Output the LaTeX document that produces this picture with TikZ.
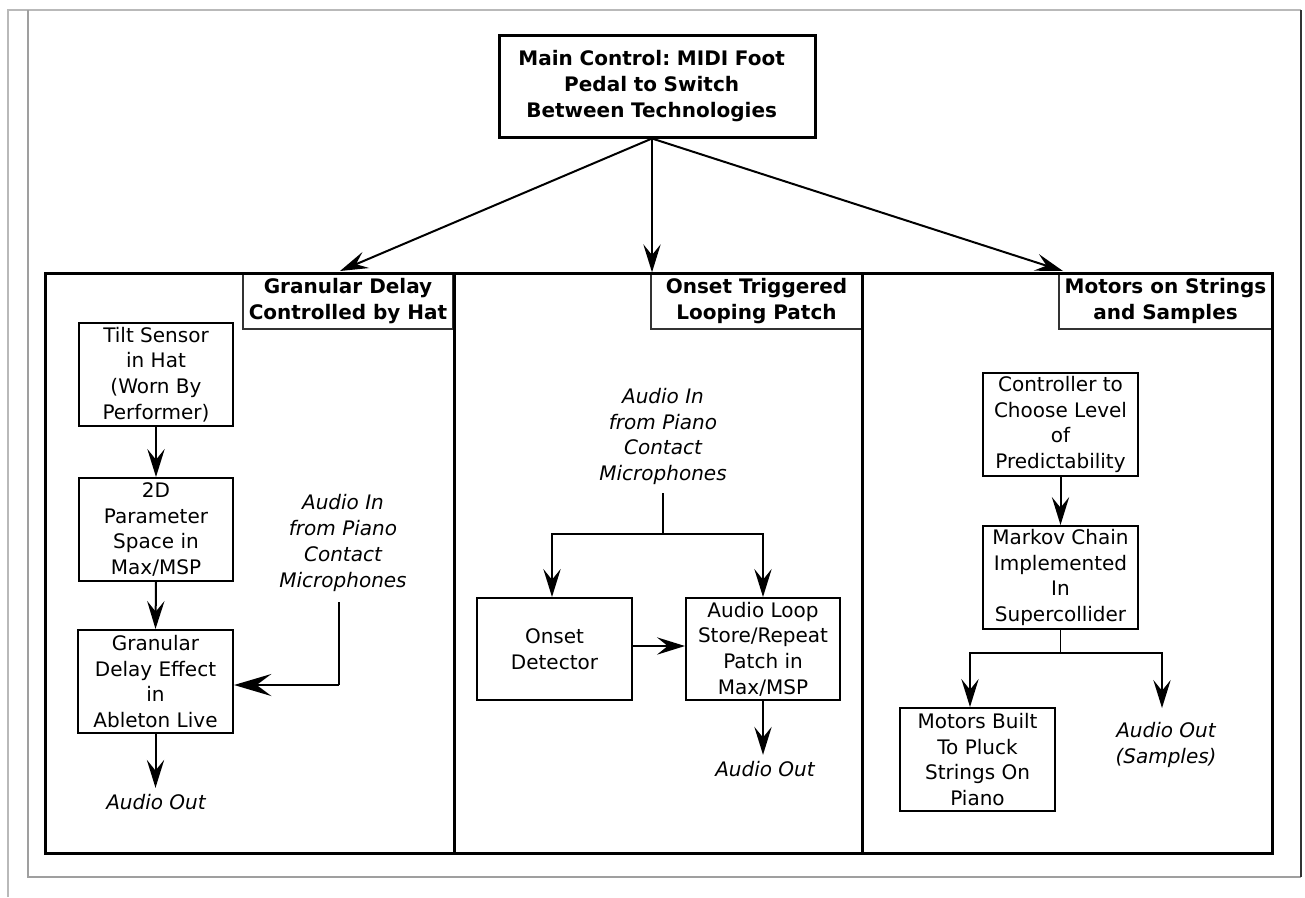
\documentclass[tikz,border=0pt]{standalone}
\usepackage{fontspec}
\setmainfont{DejaVu Sans}[ItalicFont={DejaVu Sans Oblique},BoldFont={DejaVu Sans Bold},BoldItalicFont={DejaVu Sans Bold Oblique}]
\usetikzlibrary{arrows.meta,calc}
\frenchspacing
\begin{document}
\begin{tikzpicture}[x=0.75pt,y=-0.75pt,
  txt/.style={font=\fontsize{15}{19.3}\selectfont, align=center, inner sep=0pt},
  box/.style={txt, draw, line width=1.5pt, minimum width=116pt, minimum height=77pt},
  titlebox/.style={draw=black!80, line width=1pt, inner sep=0pt, align=center, minimum height=42pt, font=\fontsize{15}{19}\selectfont\bfseries},
  lbl/.style={txt, font=\fontsize{15}{19.3}\selectfont\itshape},
  arr/.style={line width=1.5pt, -{Stealth[length=21pt,width=13pt,inset=8pt]}},
  arrbig/.style={line width=2.2pt, -{Stealth[length=28pt,width=16.5pt,inset=11pt]}},
  thinline/.style={line width=1pt},
  panel/.style={line width=2.25pt}
]
\useasboundingbox (0,0) rectangle (1305,897);
% page frame
\draw[gray!55, line width=1pt] (8,897) -- (8,10) -- (1301,10);
\draw[gray!75, line width=1pt] (28,10) -- (28,877) -- (1301,877);
\draw[black!80, line width=1pt] (1301,10) -- (1301,877);

% main control
\node[txt, draw, line width=2.25pt, font=\fontsize{15}{19.3}\selectfont\bfseries\frenchspacing, minimum width=237pt, minimum height=76.5pt, text width=225pt] (main) at (657,86) {\hspace*{-8pt}Main Control: MIDI Foot\\\hspace*{-8pt}Pedal to Switch\\\hspace*{-8pt}Between Technologies};
\coordinate (mo) at (652,137);

% title boxes
\node[titlebox, minimum width=157.5pt] (t1) at (348,301) {Granular Delay\\Controlled by Hat};
\node[titlebox, minimum width=158.25pt] (t2) at (756.5,301) {Onset Triggered\\Looping Patch};
\node[titlebox, minimum width=159.75pt] (t3) at (1165.5,301) {Motors on Strings\\and Samples};

% panels
\draw[panel] (45,273) rectangle (1272,853);
\draw[panel] (454,273) -- (454,853);
\draw[panel] (862,273) -- (862,853);

% arrows from main
\coordinate (e1) at (340,271);
\coordinate (e3) at (1063,271);
\draw[arr] (main.south -| mo) -- (e1);
\draw[arr] (main.south -| mo) -- (mo |- t2.north);
\draw[arr] (main.south -| mo) -- (e3);

% left panel
\node[box, minimum width=115.5pt, minimum height=77.25pt] (tilt) at (156,374.5) {Tilt Sensor\\in Hat\\(Worn By\\Performer)};
\node[box, minimum width=115.5pt, minimum height=77.25pt] (param) at (156,529.5) {2D\\Parameter\\Space in\\Max/MSP};
\node[box, minimum width=116.25pt, minimum height=77.25pt] (gran) at (155.5,681.5) {Granular\\Delay Effect\\in\\Ableton Live};
\node[lbl] (aout1) at (156,802.5) {Audio Out};
\node[lbl] (ain1) at (343,543) {Audio In\\from Piano\\Contact\\Microphones};
\draw[arr] (tilt.south) -- (param.north);
\draw[arr] (param.south) -- (gran.north);
\draw[arr, shorten >=5pt] (gran.south) -- (gran.south |- aout1.north);
\coordinate (c2) at (339,685);
\draw[line width=1.5pt] ([xshift=-3pt,yshift=-8pt]ain1.south) -- (c2);
\draw[arrbig] (c2) -- (gran.east |- c2);

% middle panel
\node[lbl] (ain2) at (663,436.5) {Audio In\\from Piano\\Contact\\Microphones};
\node[box, minimum width=116.25pt, minimum height=76.5pt] (onset) at (554.5,649) {Onset\\Detector};
\node[box, minimum width=115.5pt, minimum height=76.5pt] (loop) at (763,649) {Audio Loop\\Store/Repeat\\Patch in\\Max/MSP};
\node[lbl] (aout2) at (765,769.5) {Audio Out};
\coordinate (s2) at (663,534);
\draw[thinline] ([yshift=-6pt]ain2.south) -- (s2);
\draw[arr] (s2) -| ([xshift=-1.875pt]onset.north);
\draw[arr] (s2) -| (loop.north);
\draw[arr] ([yshift=2.25pt]onset.east) -- ([yshift=2.25pt]loop.west);
\draw[arr, shorten >=5pt] (loop.south) -- (loop.south |- aout2.north);

% right panel
\node[box, minimum width=116.25pt, minimum height=77.25pt] (ctrl) at (1060.5,424.5) {Controller to\\Choose Level\\of\\Predictability};
\node[box, minimum width=116.25pt, minimum height=77.25pt] (markov) at (1060.5,577.5) {Markov Chain\\Implemented\\In\\Supercollider};
\node[box, minimum width=116.25pt, minimum height=77.25pt] (motors) at (977.5,759.5) {Motors Built\\To Pluck\\Strings On\\Piano};
\node[lbl] (aout3) at (1166,745) {Audio Out\\(Samples)};
\coordinate (s3) at (1060.5,653);
\coordinate (e4) at (1162,708);
\draw[arr] (ctrl.south) -- (markov.north);
\draw[thinline] (markov.south) -- (s3);
\draw[arr] (s3) -| ([xshift=-5.625pt]motors.north);
\draw[arr] (s3) -| (e4);
\end{tikzpicture}
\end{document}
